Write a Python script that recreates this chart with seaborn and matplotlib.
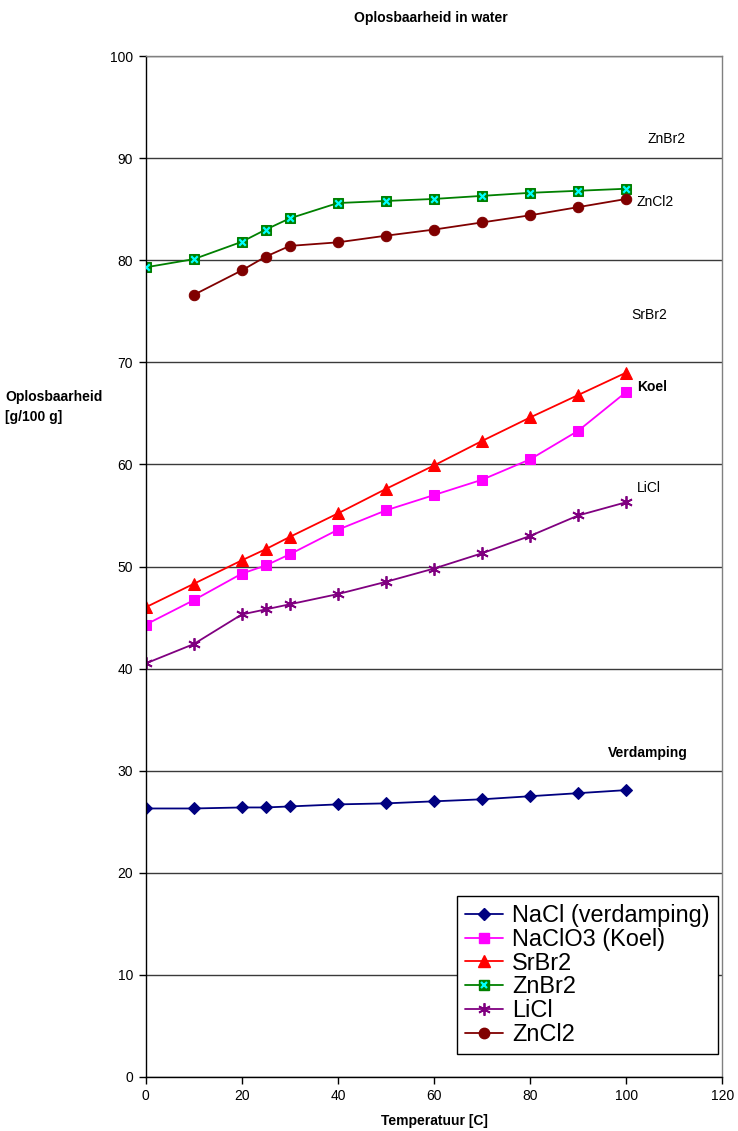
import matplotlib
matplotlib.use("Agg")
import matplotlib.pyplot as plt
from matplotlib.lines import Line2D
import seaborn as sns
import pandas as pd

temps = [0, 10, 20, 25, 30, 40, 50, 60, 70, 80, 90, 100]
nacl = [26.3, 26.3, 26.4, 26.4, 26.5, 26.7, 26.8, 27.0, 27.2, 27.5, 27.8, 28.1]
naclo3 = [44.3, 46.7, 49.3, 50.1, 51.2, 53.6, 55.5, 57.0, 58.5, 60.5, 63.3, 67.1]
srbr2 = [46.0, 48.3, 50.6, 51.7, 52.9, 55.2, 57.6, 59.9, 62.3, 64.6, 66.8, 69.0]
znbr2 = [79.3, 80.1, 81.8, 83.0, 84.1, 85.6, 85.8, 86.0, 86.3, 86.6, 86.8, 87.0]
licl = [40.5, 42.4, 45.3, 45.8, 46.3, 47.3, 48.5, 49.8, 51.3, 53.0, 55.0, 56.3]
zncl2_temps = [10, 20, 25, 30, 40, 50, 60, 70, 80, 90, 100]
zncl2 = [76.6, 79.0, 80.35, 81.4, 81.75, 82.4, 83.0, 83.7, 84.4, 85.2, 86.0]

series_names = ["NaCl (verdamping)", "NaClO3 (Koel)", "SrBr2", "ZnBr2", "LiCl", "ZnCl2"]
y_ticks = list(range(0, 101, 10))
x_ticks = list(range(0, 121, 20))

annotations = [
    ("ZnBr2", 104.5, 91.9, "normal"),
    ("ZnCl2", 102.2, 85.7, "normal"),
    ("SrBr2", 101.0, 74.6, "normal"),
    ("Koel", 102.2, 67.6, "bold"),
    ("LiCl", 102.2, 57.7, "normal"),
    ("Verdamping", 96.2, 31.7, "bold"),
]

sns.set_style("white")
plt.rcParams["font.family"] = ["Liberation Sans", "DejaVu Sans"]
plt.rcParams["text.color"] = "black"
plt.rcParams["xtick.color"] = "black"
plt.rcParams["ytick.color"] = "black"
plt.rcParams["axes.labelcolor"] = "black"

fig = plt.figure(figsize=(7.38, 11.31), dpi=100)
ax = fig.add_axes([145.6 / 738, 54 / 1131, (722.5 - 145.6) / 738, (1077 - 56) / 1131])

lw = 1.3
df = pd.DataFrame({"T": temps, "NaCl": nacl, "NaClO3": naclo3, "SrBr2": srbr2,
                   "ZnBr2": znbr2, "LiCl": licl})
dz = pd.DataFrame({"T": zncl2_temps, "ZnCl2": zncl2})

sns.lineplot(data=df, x="T", y="NaCl", ax=ax, color="#000080", lw=lw, marker="D",
             markersize=6, markeredgecolor="#000080", markerfacecolor="#000080")
sns.lineplot(data=df, x="T", y="NaClO3", ax=ax, color="#FF00FF", lw=lw, marker="s",
             markersize=7.5, markeredgecolor="#FF00FF", markerfacecolor="#FF00FF")
sns.lineplot(data=df, x="T", y="SrBr2", ax=ax, color="#FF0000", lw=lw, marker="^",
             markersize=8, markeredgecolor="#FF0000", markerfacecolor="#FF0000")
sns.lineplot(data=df, x="T", y="ZnBr2", ax=ax, color="#008000", lw=lw, marker="s",
             markersize=6.5, markeredgecolor="#008000", markerfacecolor="#008000")
sns.scatterplot(data=df, x="T", y="ZnBr2", ax=ax, marker="x", s=22, color="#00FFFF",
                linewidth=1.6, zorder=5)
sns.lineplot(data=df, x="T", y="LiCl", ax=ax, color="#800080", lw=lw, marker=(6, 2, 0),
             markersize=9, markeredgecolor="#800080", markeredgewidth=1.3)
sns.lineplot(data=dz, x="T", y="ZnCl2", ax=ax, color="#800000", lw=lw, marker="o",
             markersize=7.5, markeredgecolor="#800000", markerfacecolor="#800000")

ax.set_xlim(0, 120)
ax.set_ylim(0, 100)
ax.set_xticks(x_ticks)
ax.set_yticks(y_ticks)
ax.set_xlabel("")
ax.set_ylabel("")
ax.yaxis.grid(True, color="#3a3a3a", lw=1.0)
ax.set_axisbelow(True)
for side in ["top", "right"]:
    ax.spines[side].set_color("#808080")
    ax.spines[side].set_linewidth(1.0)
for side in ["left", "bottom"]:
    ax.spines[side].set_color("black")
    ax.spines[side].set_linewidth(1.0)
ax.tick_params(axis="both", direction="out", length=5, width=1, color="black",
               labelcolor="black", labelsize=10, pad=4, left=True, bottom=True)

for txt, x, y, w in annotations:
    ax.text(x, y, txt, fontsize=10, fontweight=w, ha="left", va="center", color="black")

# legend
h_nacl = Line2D([], [], color="#000080", lw=lw, marker="D", markersize=6)
h_naclo3 = Line2D([], [], color="#FF00FF", lw=lw, marker="s", markersize=7.5)
h_srbr2 = Line2D([], [], color="#FF0000", lw=lw, marker="^", markersize=8)
h_znbr2a = Line2D([], [], color="#008000", lw=lw, marker="s", markersize=6.5)
h_znbr2b = Line2D([], [], color="#00FFFF", lw=0, marker="x", markersize=5, markeredgewidth=1.6)
h_licl = Line2D([], [], color="#800080", lw=lw, marker=(6, 2, 0), markersize=9, markeredgewidth=1.3)
h_zncl2 = Line2D([], [], color="#800000", lw=lw, marker="o", markersize=7.5)
handles = [h_nacl, h_naclo3, h_srbr2, (h_znbr2a, h_znbr2b), h_licl, h_zncl2]
leg = ax.legend(handles, series_names, loc="upper left",
                bbox_to_anchor=((457 - 145.6) / (722.5 - 145.6), (1077 - 896) / (1077 - 56)),
                fontsize=16.9, frameon=True, fancybox=False, edgecolor="black",
                framealpha=1, handlelength=1.6, handletextpad=0.4, labelspacing=0.03,
                borderpad=0.35, borderaxespad=0)
leg.get_frame().set_linewidth(1.0)
for t in leg.get_texts():
    t.set_color("black")

fig.text(431 / 738, 1 - 18 / 1131, "Oplosbaarheid in water", fontsize=10,
         fontweight="bold", ha="center", va="center", color="black")
fig.text(434 / 738, 1 - 1121 / 1131, "Temperatuur [C]", fontsize=10,
         fontweight="bold", ha="center", va="center", color="black")
fig.text(5 / 738, 1 - 407 / 1131, "Oplosbaarheid\n[g/100 g]", fontsize=10,
         fontweight="bold", ha="left", va="center", linespacing=1.5, color="black")

fig.savefig("out.png", dpi=100)
